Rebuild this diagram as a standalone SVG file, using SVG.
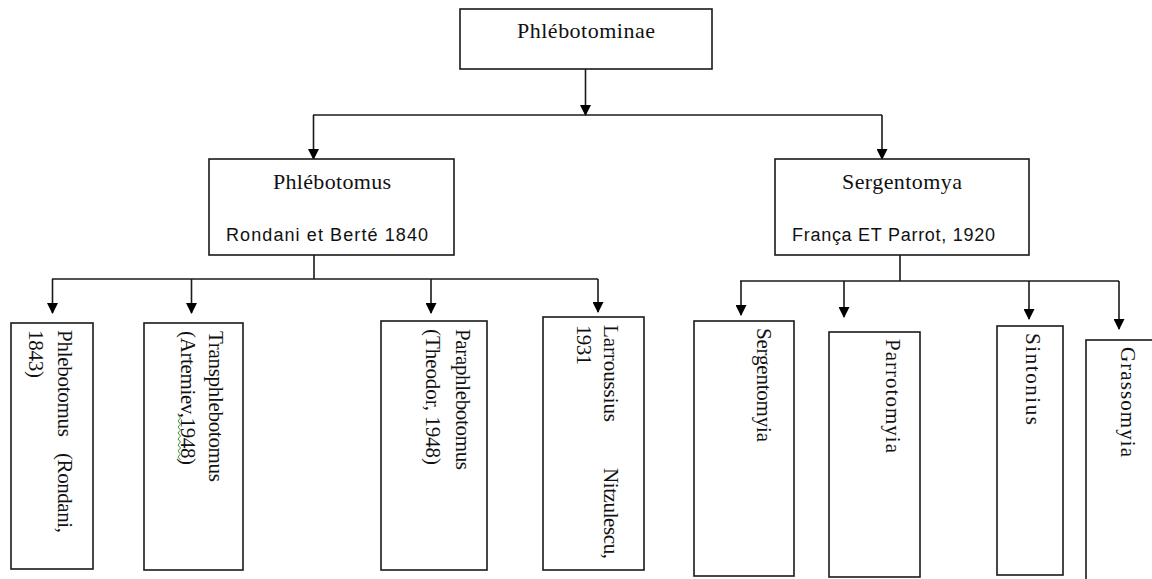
<svg xmlns="http://www.w3.org/2000/svg" width="1152" height="579" viewBox="0 0 1152 579">
<style>
.box{fill:#fff;stroke:#1a1a1a;stroke-width:1.6}
.ser{font-family:"Liberation Serif","Times New Roman",serif;fill:#111}
.sans{font-family:"Liberation Sans",Arial,sans-serif;fill:#111}
.t1{font-size:22px}
.t2{font-size:18px}
.lf{font-size:21px}
.con{fill:none;stroke:#1a1a1a;stroke-width:1.6}
</style>
<defs>
<marker id="ah" markerUnits="userSpaceOnUse" markerWidth="11" markerHeight="11" refX="10" refY="5.5" orient="auto">
<path d="M0,0 L11,5.5 L0,11 z" fill="#000"/>
</marker>
</defs>
<rect width="1152" height="579" fill="#fff"/>

<g id="connectors">
<path class="con" d="M585.5,69 V115" marker-end="url(#ah)"/>
<path class="con" d="M313,115 H882"/>
<path class="con" d="M313.5,115 V159" marker-end="url(#ah)"/>
<path class="con" d="M882,115 V159" marker-end="url(#ah)"/>
<path class="con" d="M314,255 V279"/>
<path class="con" d="M52,279 H598"/>
<path class="con" d="M52.5,279 V313" marker-end="url(#ah)"/>
<path class="con" d="M191.5,279 V313" marker-end="url(#ah)"/>
<path class="con" d="M431,279 V313" marker-end="url(#ah)"/>
<path class="con" d="M598,279 V312" marker-end="url(#ah)"/>
<path class="con" d="M900,255 V281"/>
<path class="con" d="M740,281 H1119"/>
<path class="con" d="M741,281 V315" marker-end="url(#ah)"/>
<path class="con" d="M844,281 V317" marker-end="url(#ah)"/>
<path class="con" d="M1029,281 V319" marker-end="url(#ah)"/>
<path class="con" d="M1119,281 V329" marker-end="url(#ah)"/>
</g>

<g id="phlebotominae">
<rect class="box" x="460" y="9" width="252" height="60"/>
<text class="ser t1" x="586" y="38" text-anchor="middle" textLength="138">Phlébotominae</text>
</g>

<g id="phlebotomus-genus">
<rect class="box" x="209" y="159" width="245" height="96"/>
<text class="ser t1" x="332" y="189" text-anchor="middle" textLength="118">Phlébotomus</text>
<text class="sans t2" x="226" y="241" textLength="202">Rondani et Berté 1840</text>
</g>

<g id="sergentomya-genus">
<rect class="box" x="775" y="159" width="254" height="96"/>
<text class="ser t1" x="902" y="189" text-anchor="middle" textLength="120">Sergentomya</text>
<text class="sans t2" x="792" y="241" textLength="203">França ET Parrot, 1920</text>
</g>

<g id="leaf-phlebotomus">
<rect class="box" x="11" y="323" width="82" height="246"/>
<text class="ser lf" transform="translate(58,330) rotate(90)" textLength="107">Phlebotomus</text>
<text class="ser lf" transform="translate(58,453) rotate(90)" textLength="80">(Rondani,</text>
<text class="ser lf" transform="translate(29,330) rotate(90)" textLength="48">1843)</text>
</g>

<g id="leaf-transphlebotomus">
<rect class="box" x="144" y="323" width="99" height="247"/>
<text class="ser lf" transform="translate(209,331) rotate(90)" textLength="151">Transphlebotomus</text>
<text class="ser lf" transform="translate(181,331) rotate(90)" textLength="134">(Artemiev,1948)</text>
<path d="M178,415 l2.5,3 l-2.5,3 l2.5,3 l-2.5,3 l2.5,3 l-2.5,3 l2.5,3 l-2.5,3 l2.5,3 l-2.5,3 l2.5,3 l-2.5,3 l2.5,3 l-2.5,3 l2.5,3" fill="none" stroke="#3a9a3a" stroke-width="1"/>
</g>

<g id="leaf-paraphlebotomus">
<rect class="box" x="381" y="321" width="106" height="249"/>
<text class="ser lf" transform="translate(456,329) rotate(90)" textLength="141">Paraphlebotomus</text>
<text class="ser lf" transform="translate(426,329) rotate(90)" textLength="136">(Theodor, 1948)</text>
</g>

<g id="leaf-larroussius">
<rect class="box" x="543" y="317" width="101" height="253"/>
<text class="ser lf" transform="translate(604,325) rotate(90)" textLength="97">Larroussius</text>
<text class="ser lf" transform="translate(604,468) rotate(90)" textLength="91">Nitzulescu,</text>
<text class="ser lf" transform="translate(577,325) rotate(90)" textLength="40">1931</text>
</g>

<g id="leaf-sergentomyia">
<rect class="box" x="694" y="321" width="100" height="255"/>
<text class="ser lf" transform="translate(757,328) rotate(90)" textLength="114">Sergentomyia</text>
</g>

<g id="leaf-parrotomyia">
<rect class="box" x="829" y="332" width="91" height="245"/>
<text class="ser lf" transform="translate(886,339) rotate(90)" textLength="114">Parrotomyia</text>
</g>

<g id="leaf-sintonius">
<rect class="box" x="997" y="326" width="66" height="249"/>
<text class="ser lf" transform="translate(1026,333) rotate(90)" textLength="92">Sintonius</text>
</g>

<g id="leaf-grassomyia">
<rect class="box" x="1086" y="340" width="80" height="250"/>
<text class="ser lf" transform="translate(1121,347) rotate(90)" textLength="110">Grassomyia</text>
</g>
</svg>
